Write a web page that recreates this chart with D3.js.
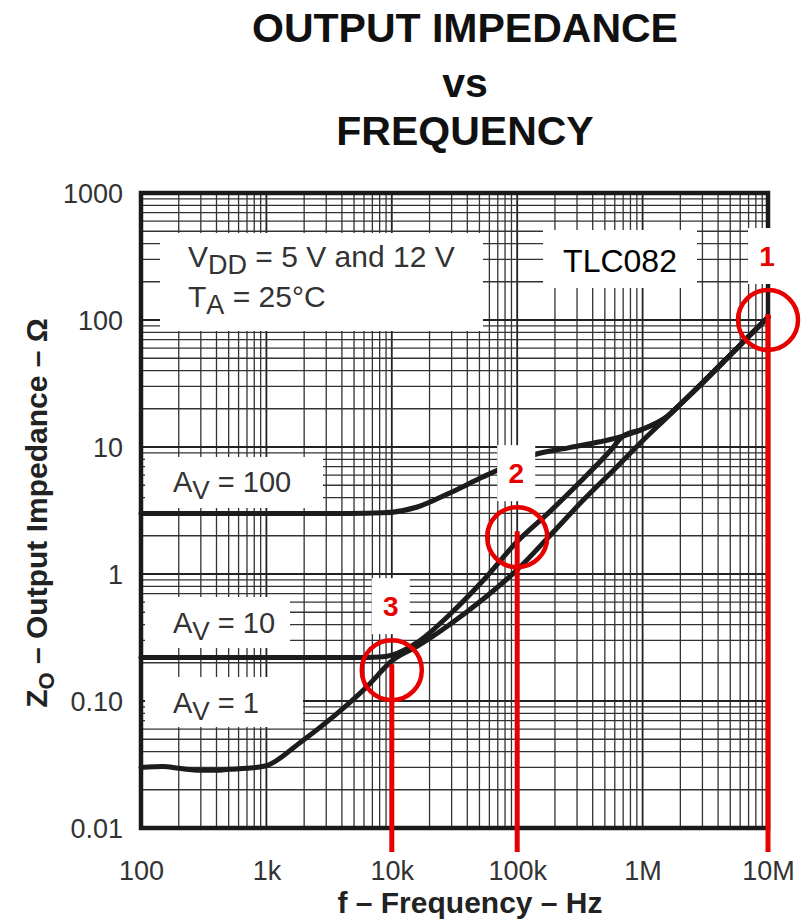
<!DOCTYPE html>
<html><head><meta charset="utf-8">
<script src="https://cdn.jsdelivr.net/npm/d3@7"></script>
<style>
html,body{margin:0;padding:0;background:#fff;}
text{font-family:"Liberation Sans",Arial,Helvetica,sans-serif;}
</style></head>
<body>
<svg id="chart" width="809" height="920"></svg>
<script>
// ---- data ----
const titleLines = ["OUTPUT IMPEDANCE", "vs", "FREQUENCY"];
const xTickValues = [100, 1e3, 1e4, 1e5, 1e6, 1e7];
const xTickLabels = ["100", "1k", "10k", "100k", "1M", "10M"];
const yTickValues = [1000, 100, 10, 1, 0.1, 0.01];
const yTickLabels = ["1000", "100", "10", "1", "0.10", "0.01"];

const freqAv100 = [100, 1000, 4600, 8500, 16000, 29000, 53000, 80000, 134000, 250000, 457000, 700000, 1e6, 1.57e6, 2e6, 3e6, 5e6, 7e6, 1e7];
const zAv100    = [3.0, 3.0, 3.0, 3.03, 3.37, 4.35, 5.8, 7.0, 8.65, 9.8, 11.0, 12.2, 13.8, 17.4, 21.7, 32, 53, 74, 105];

const freqAv10 = [100, 1000, 5000, 8000, 10000, 16000, 29000, 53000, 100000, 182000, 335000, 550000, 700000, 1e6, 1.57e6, 2e6, 3e6, 5e6, 7e6, 1e7];
const zAv10    = [0.22, 0.22, 0.22, 0.222, 0.23, 0.29, 0.48, 0.88, 1.8, 3.1, 5.6, 9.3, 12.2, 13.8, 17.4, 21.7, 32, 53, 74, 105];

const freqAv1 = [100, 150, 200, 300, 400, 500, 700, 1000, 1850, 3400, 6300, 10200, 16000, 29000, 53000, 100000, 182000, 335000, 625000, 1e6, 1.57e6, 2e6, 3e6, 5e6, 7e6, 1e7];
const zAv1    = [0.030, 0.0305, 0.0295, 0.0285, 0.0285, 0.029, 0.0295, 0.031, 0.047, 0.075, 0.129, 0.21, 0.27, 0.40, 0.63, 1.08, 2.0, 3.8, 7.0, 11.2, 17.2, 21.7, 32, 53, 74, 105];

const markerFreq = [1e7, 1e5, 1e4];
const markerZ = [100, 1.95, 0.175];
const markerLabels = ["1", "2", "3"];

// ---- layout ----
const svg = d3.select("#chart");
const L = 141, R = 768, T = 193, B = 828;
const x = d3.scaleLog().domain([100, 1e7]).range([L, R]);
const y = d3.scaleLog().domain([0.01, 1000]).range([B, T]);
const FONT = '"Liberation Sans",Arial,Helvetica,sans-serif';

svg.append("rect").attr("width", 809).attr("height", 920).attr("fill", "#fff");

// title
const titleY = [42, 97, 145];
svg.selectAll("text.title").data(titleLines).enter().append("text")
  .attr("class", "title").attr("x", 465).attr("y", (d, i) => titleY[i])
  .attr("text-anchor", "middle").attr("font-size", 41).attr("font-weight", "bold")
  .attr("fill", "#111").text(d => d);

// grid
const isMajor = v => Math.abs(Math.log10(v) - Math.round(Math.log10(v))) < 1e-6;
const grid = svg.append("g");
grid.selectAll("line.vx").data(x.ticks()).enter().append("line")
  .attr("x1", d => x(d)).attr("x2", d => x(d)).attr("y1", T).attr("y2", B)
  .attr("stroke", d => isMajor(d) ? "#222" : "#333")
  .attr("stroke-width", d => isMajor(d) ? 1.8 : 1.3);
grid.selectAll("line.hy").data(y.ticks()).enter().append("line")
  .attr("y1", d => y(d)).attr("y2", d => y(d)).attr("x1", L).attr("x2", R)
  .attr("stroke", d => isMajor(d) ? "#222" : "#333")
  .attr("stroke-width", d => isMajor(d) ? 1.8 : 1.3);

// frame
svg.append("rect").attr("x", L).attr("y", T).attr("width", R - L).attr("height", B - T)
  .attr("fill", "none").attr("stroke", "#1a1a1a").attr("stroke-width", 4.5);

// axes
const xAxis = svg.append("g").attr("transform", `translate(0,${B})`)
  .call(d3.axisBottom(x).tickValues(xTickValues).tickFormat((d, i) => xTickLabels[i]).tickSize(0).tickPadding(0));
xAxis.select(".domain").remove();
xAxis.selectAll("text").attr("y", 52).attr("dy", 0).attr("font-size", 27).attr("fill", "#333").attr("font-family", FONT);

const yAxis = svg.append("g").attr("transform", `translate(${L},0)`)
  .call(d3.axisLeft(y).tickValues(yTickValues).tickFormat((d, i) => yTickLabels[i]).tickSize(0).tickPadding(0));
yAxis.select(".domain").remove();
yAxis.selectAll("text").attr("x", -18).attr("dy", "0.36em").attr("font-size", 27).attr("fill", "#333").attr("font-family", FONT);

// axis titles
svg.append("text").attr("x", 470).attr("y", 913).attr("text-anchor", "middle")
  .attr("font-size", 30).attr("font-weight", "bold").attr("fill", "#222").text("f – Frequency – Hz");
const yt = svg.append("text").attr("transform", "translate(47,513) rotate(-90)")
  .attr("text-anchor", "middle").attr("font-size", 30).attr("font-weight", "bold").attr("fill", "#222");
yt.append("tspan").text("Z");
yt.append("tspan").attr("font-size", 22).attr("dy", 7).text("O");
yt.append("tspan").attr("dy", -7).text(" – Output Impedance – Ω");

// white label boxes
const boxes = svg.append("g");
function box(x0, y0, x1, y1) {
  boxes.append("rect").attr("x", x0).attr("y", y0).attr("width", x1 - x0).attr("height", y1 - y0).attr("fill", "#fff");
}
box(160, 233, 483, 331);
box(543, 230, 697, 288);
box(145, 457, 323, 508);
box(145, 597, 290, 648);
box(145, 677, 303, 727);

function subText(xp, yp, main, sub, rest, size) {
  const t = svg.append("text").attr("x", xp).attr("y", yp).attr("font-size", size).attr("fill", "#333");
  t.append("tspan").text(main);
  t.append("tspan").attr("font-size", size * 0.9).attr("dy", 7).text(sub);
  t.append("tspan").attr("dy", -7).text(rest);
}
subText(188, 267, "V", "DD", " = 5 V and 12 V", 30);
subText(188, 307, "T", "A", " = 25°C", 30);
subText(173, 492, "A", "V", " = 100", 29);
subText(173, 633, "A", "V", " = 10", 29);
subText(173, 713, "A", "V", " = 1", 29);
svg.append("text").attr("x", 620).attr("y", 272).attr("text-anchor", "middle")
  .attr("font-size", 32).attr("fill", "#000").text("TLC082");

// curves
const line = d3.line().x(d => x(d[0])).y(d => y(d[1])).curve(d3.curveMonotoneX);
const series = [
  d3.zip(freqAv100, zAv100),
  d3.zip(freqAv10, zAv10),
  d3.zip(freqAv1, zAv1)
];
svg.append("g").selectAll("path").data(series).enter().append("path")
  .attr("d", line).attr("fill", "none").attr("stroke", "#1c1c1c")
  .attr("stroke-width", 5).attr("stroke-linejoin", "round").attr("stroke-linecap", "round");

// red annotations
const markers = markerFreq.map((f, i) => ({ f, z: markerZ[i], label: markerLabels[i] }));
const red = "#e60000";
const ann = svg.append("g");
ann.selectAll("line").data(markers).enter().append("line")
  .attr("x1", d => x(d.f)).attr("x2", d => x(d.f))
  .attr("y1", d => y(d.z) - 6).attr("y2", B + 24)
  .attr("stroke", red).attr("stroke-width", 5);
ann.selectAll("circle").data(markers).enter().append("circle")
  .attr("cx", d => x(d.f)).attr("cy", d => y(d.z)).attr("r", 30)
  .attr("fill", "none").attr("stroke", red).attr("stroke-width", 4.5);
ann.selectAll("rect").data(markers).enter().append("rect")
  .attr("x", d => x(d.f) - 20).attr("y", d => y(d.z) - 92).attr("width", 38).attr("height", 56)
  .attr("fill", "#fff");
ann.selectAll("text").data(markers).enter().append("text")
  .attr("x", d => x(d.f) - 1).attr("y", d => y(d.z) - 54)
  .attr("text-anchor", "middle").attr("font-size", 28).attr("font-weight", "bold")
  .attr("fill", red).text(d => d.label);
</script>
</body></html>
